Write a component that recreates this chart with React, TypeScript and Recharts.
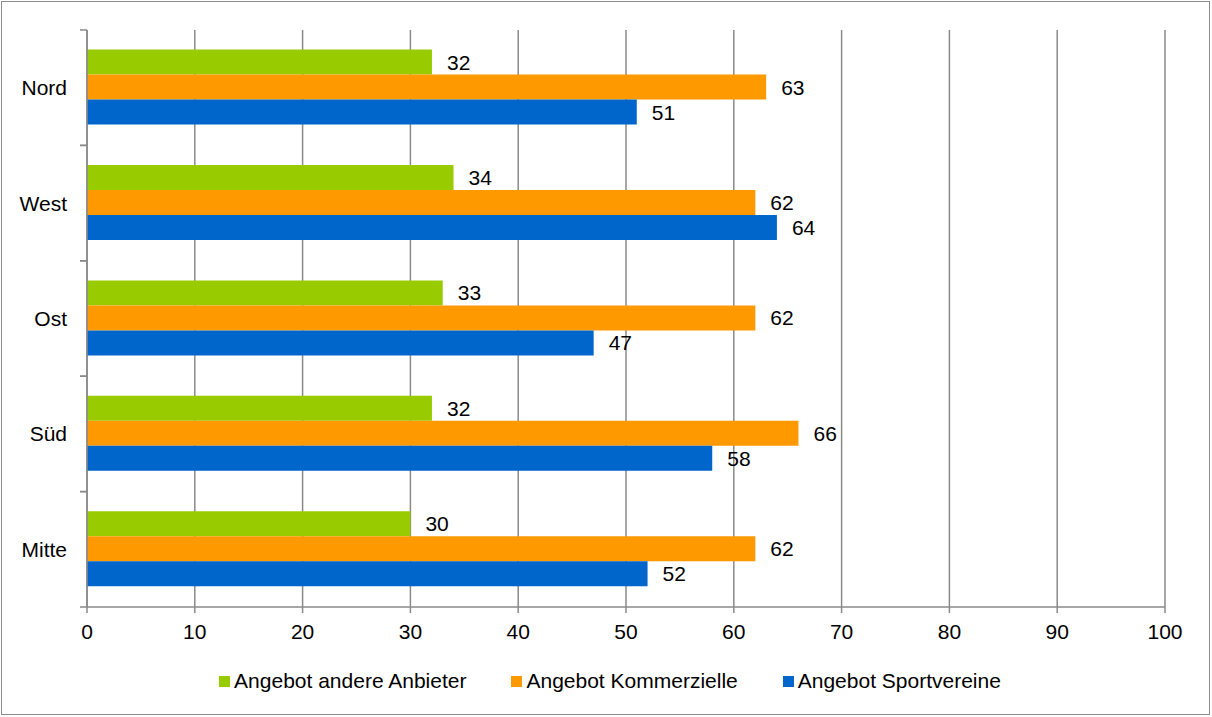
import React from 'react';
import { BarChart, Bar, XAxis, YAxis, CartesianGrid, LabelList } from 'recharts';

const categories = ['Nord', 'West', 'Ost', 'Süd', 'Mitte'];
const andereAnbieter = [32, 34, 33, 32, 30];
const kommerzielle = [63, 62, 62, 66, 62];
const sportvereine = [51, 64, 47, 58, 52];
const xTicks = [0, 10, 20, 30, 40, 50, 60, 70, 80, 90, 100];
const seriesNames = ['Angebot andere Anbieter', 'Angebot Kommerzielle', 'Angebot Sportvereine'];
const seriesKeys = ['andere', 'kommerzielle', 'sport'];
const seriesColors = ['#99CC00', '#FF9900', '#0066CC'];

const data = categories.map((name, i) => ({
  name,
  andere: andereAnbieter[i],
  kommerzielle: kommerzielle[i],
  sport: sportvereine[i],
}));

const W = 1212;
const H = 717;
const MARGIN = { top: 30, right: 47, bottom: 0, left: 0 };
const Y_AXIS_W = 87;
const X_AXIS_H = 110;
const PLOT_H = H - MARGIN.top - MARGIN.bottom - X_AXIS_H;
const FONT = '"Liberation Sans", Arial, sans-serif';
const GRID = '#8a8a8a';

const YTick = (props: any) => {
  const { x, y, payload } = props;
  const band = PLOT_H / categories.length;
  const ax = x + 8;
  return (
    <g>
      <line x1={ax - 7} x2={ax} y1={y - band / 2} y2={y - band / 2} stroke={GRID} strokeWidth={1.5} />
      <line x1={ax - 7} x2={ax} y1={y + band / 2} y2={y + band / 2} stroke={GRID} strokeWidth={1.5} />
      <text x={ax - 20} y={y} textAnchor="end" dominantBaseline="central" fontSize={21} fontFamily={FONT} fill="#000">
        {payload.value}
      </text>
    </g>
  );
};

export default function App() {
  return (
    <div style={{ position: 'absolute', left: 0, top: 0, width: W, height: H, background: '#fff', fontFamily: FONT }}>
      <div style={{ position: 'absolute', left: 1, top: 1, width: 1209, height: 714, border: '1px solid #8c8c8c', boxSizing: 'border-box' }} />
      <BarChart
        width={W}
        height={H}
        data={data}
        layout="vertical"
        margin={MARGIN}
        barCategoryGap="17%"
        barGap={0}
      >
        <CartesianGrid horizontal={false} stroke={GRID} strokeWidth={1.5} />
        <XAxis
          type="number"
          domain={[0, 100]}
          ticks={xTicks}
          interval={0}
          height={X_AXIS_H}
          stroke={GRID}
          strokeWidth={1.5}
          tickSize={6}
          tickMargin={11}
          tick={{ fill: '#000', fontSize: 21, fontFamily: FONT }}
        />
        <YAxis
          type="category"
          dataKey="name"
          width={Y_AXIS_W}
          stroke={GRID}
          strokeWidth={1.5}
          tickLine={false}
          tick={<YTick />}
        />
        {seriesKeys.map((k, i) => (
          <Bar key={k} dataKey={k} name={seriesNames[i]} fill={seriesColors[i]} isAnimationActive={false}>
            <LabelList dataKey={k} position="right" offset={15} fill="#000" fontSize={21} fontFamily={FONT} />
          </Bar>
        ))}
      </BarChart>
      <div
        style={{
          position: 'absolute',
          left: 4,
          top: 668,
          width: W,
          display: 'flex',
          justifyContent: 'center',
          gap: 45,
          fontSize: 21,
          lineHeight: '26px',
          color: '#000',
        }}
      >
        {seriesNames.map((n, i) => (
          <div key={n} style={{ display: 'flex', alignItems: 'center' }}>
            <span style={{ display: 'inline-block', width: 11, height: 11, background: seriesColors[i], marginRight: 4 }} />
            <span>{n}</span>
          </div>
        ))}
      </div>
    </div>
  );
}
